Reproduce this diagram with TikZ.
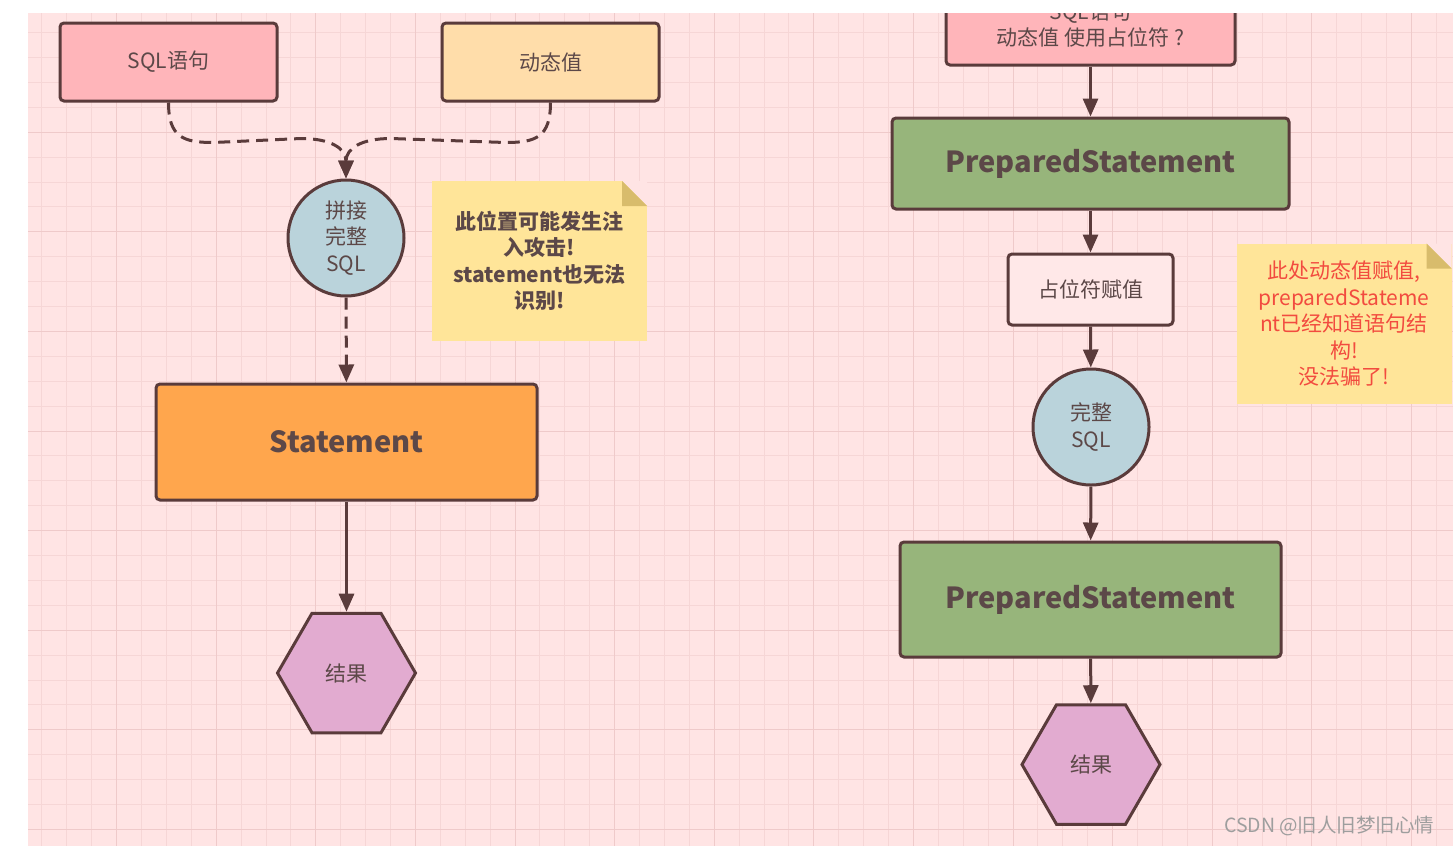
\documentclass[tikz,border=0pt]{standalone}
\usepackage{fontspec}
\setmainfont{Noto Sans CJK SC}
\usetikzlibrary{arrows.meta,shapes.geometric,calc}

\definecolor{bgcol}{HTML}{FFE4E4}
\definecolor{gridcol}{HTML}{F6D6D6}
\definecolor{majorcol}{HTML}{EFCACA}
\definecolor{linecol}{HTML}{5A3B3B}
\definecolor{textcol}{HTML}{5C4848}
\definecolor{sqlcol}{HTML}{FFB5BA}
\definecolor{valcol}{HTML}{FFDDAA}
\definecolor{circcol}{HTML}{BAD3DB}
\definecolor{stmtcol}{HTML}{FFA64D}
\definecolor{pscol}{HTML}{97B57B}
\definecolor{phcol}{HTML}{FFE8E8}
\definecolor{hexcol}{HTML}{E2ABD0}
\definecolor{notecol}{HTML}{FFE599}
\definecolor{foldcol}{HTML}{D8BC6C}
\definecolor{redtext}{HTML}{F24B3F}
\definecolor{wmcol}{HTML}{9E9E9E}

\begin{document}
\begin{tikzpicture}[x=1pt, y=-1pt,
    box/.style={rectangle, draw=linecol, line width=3pt, rounded corners=4pt, inner sep=0pt, align=center, text=textcol, font=\fontsize{21}{26.5}\selectfont},
    bigbox/.style={box, font=\fontsize{29}{34}\selectfont\bfseries},
    joint/.style={circle, draw=linecol, line width=3pt, fill=circcol, minimum size=116pt, inner sep=0pt, align=center, text=textcol, font=\fontsize{21}{26.5}\selectfont},
    result/.style={regular polygon, regular polygon sides=6, draw=linecol, line width=3pt, fill=hexcol, minimum size=138pt, inner sep=0pt, text=textcol, font=\fontsize{21}{26.5}\selectfont},
    note/.style={rectangle, fill=notecol, minimum width=215pt, minimum height=160pt, inner sep=0pt, align=center, font=\fontsize{21}{26.5}\selectfont,
        path picture={
            \fill[bgcol] (path picture bounding box.north east) -- ++(-25pt,0pt) -- ++(25pt,-25pt) -- cycle;
            \fill[foldcol] ([xshift=-25pt]path picture bounding box.north east) -- ++(0pt,-25pt) -- ++(25pt,0pt) -- cycle;
        }},
    arrow/.style={-{Triangle[length=18pt,width=15pt]}, draw=linecol, line width=3pt},
    dasharrow/.style={arrow, dash pattern=on 12pt off 7pt},
    minorgrid/.style={draw=gridcol, line width=1pt},
    majorgrid/.style={draw=majorcol, line width=1pt}
]
\useasboundingbox (0,0) rectangle (1453,846);

% Grid paper
\fill[bgcol] (28,13) rectangle (1453,846);
\foreach \gx in {41.9,66.8,...,1453} \draw[minorgrid] (\gx,13) -- (\gx,846);
\foreach \gy in {32.6,57.5,...,846} \draw[minorgrid] (28,\gy) -- (1453,\gy);
\foreach \gx in {116.7,216.3,...,1453} \draw[majorgrid] (\gx,13) -- (\gx,846);
\foreach \gy in {132.2,231.8,...,846} \draw[majorgrid] (28,\gy) -- (1453,\gy);

% Left: Statement
\node[box, fill=sqlcol, minimum width=217pt, minimum height=78pt] (sql) at (168.5,62) {SQL语句};
\node[box, fill=valcol, minimum width=217pt, minimum height=78pt] (val) at (550.5,62) {动态值};
\node[joint] (join) at (346,238) {拼接\\完整\\SQL};
\node[bigbox, fill=stmtcol, minimum width=381pt, minimum height=116pt] (stmt) at (346.5,442) {Statement};
\node[result] (res1) at (346.5,673) {结果};
\node[note, text=textcol, font=\fontsize{21}{26.5}\selectfont\bfseries] (warn) at (539.5,261) {此位置可能发生注\\入攻击!\\statement也无法\\识别!};

% Right: PreparedStatement
\node[box, fill=sqlcol, minimum width=289pt, minimum height=81pt] (sqlph) at (1090.5,24.5) {SQL语句\\动态值 使用占位符 ?};
\node[bigbox, fill=pscol, minimum width=397pt, minimum height=91pt] (ps1) at (1090.5,163.5) {PreparedStatement};
\node[box, fill=phcol, minimum width=165pt, minimum height=71pt] (bind) at (1090.5,289.5) {占位符赋值};
\node[joint] (full) at (1091,427) {完整\\SQL};
\node[bigbox, fill=pscol, minimum width=381pt, minimum height=115pt] (ps2) at (1090.5,599.5) {PreparedStatement};
\node[result] (res2) at (1091,764.5) {结果};
\node[note, text=redtext] (safe) at (1344,323.5) {此处动态值赋值,\\preparedStateme\\nt已经知道语句结\\构!\\没法骗了!};

% Arrows - left
\draw[dasharrow] (sql.south) .. controls +(0,35) and +(-30,0) .. ($(sql.south)+(45,40)$) -- ($(join.north)+(-45,-40)$) .. controls +(30,0) and +(0,-30) .. (join.north);
\draw[dasharrow] (val.south) .. controls +(0,35) and +(30,0) .. ($(val.south)+(-45,40)$) -- ($(join.north)+(45,-40)$) .. controls +(-30,0) and +(0,-30) .. (join.north);
\draw[dasharrow] (join) -- (stmt);
\draw[arrow] (stmt) -- (res1);

% Arrows - right
\draw[arrow] (sqlph) -- (ps1);
\draw[arrow] (ps1) -- (bind);
\draw[arrow] (bind) -- (full);
\draw[arrow] (full) -- (ps2);
\draw[arrow] (ps2) -- (res2);

% Page edges
\fill[white] (0,0) rectangle (1453,13);
\fill[white] (0,0) rectangle (28,846);

\node[anchor=east, text=wmcol, font=\fontsize{19.5}{24}\selectfont] (mark) at (1438,826) {CSDN @旧人旧梦旧心情};
\end{tikzpicture}
\end{document}
